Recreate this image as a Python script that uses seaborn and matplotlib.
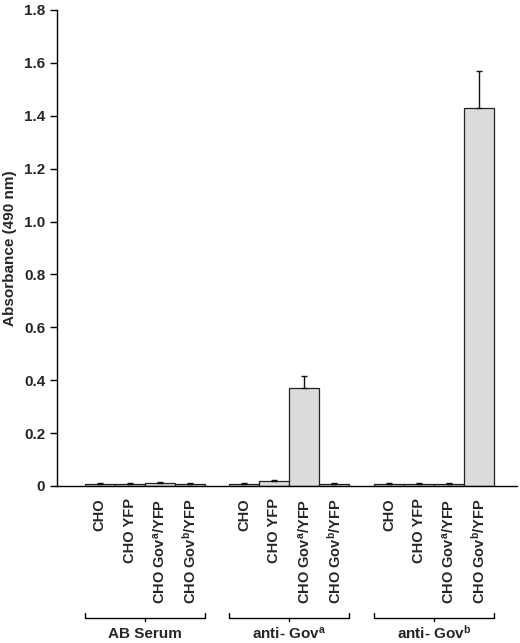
import matplotlib
matplotlib.use("Agg")
import matplotlib.pyplot as plt
import matplotlib.transforms as mtransforms
import seaborn as sns
import pandas as pd
import numpy as np

# ---- data ----
groups = ["AB Serum", "anti- Gov$^{\\mathrm{a}}$", "anti- Gov$^{\\mathrm{b}}$"]
cells = ["CHO", "CHO YFP", "CHO Gov$^{\\mathrm{a}}$/YFP", "CHO Gov$^{\\mathrm{b}}$/YFP"]
values_ab = [0.006, 0.006, 0.011, 0.006]
values_gova = [0.006, 0.017, 0.369, 0.006]
values_govb = [0.006, 0.006, 0.006, 1.43]
err_ab = [0.005, 0.005, 0.004, 0.004]
err_gova = [0.004, 0.004, 0.045, 0.004]
err_govb = [0.004, 0.004, 0.004, 0.14]
yticks = [0, 0.2, 0.4, 0.6, 0.8, 1.0, 1.2, 1.4, 1.6, 1.8]
ytick_labels = ["0", "0.2", "0.4", "0.6", "0.8", "1.0", "1.2", "1.4", "1.6", "1.8"]

rows = []
for g, vals, errs in zip(groups, [values_ab, values_gova, values_govb],
                         [err_ab, err_gova, err_govb]):
    for c, v, e in zip(cells, vals, errs):
        rows.append({"group": g, "cell": c, "value": v, "err": e})
df = pd.DataFrame(rows)

sns.set_style("ticks")
plt.rcParams["font.family"] = ["Liberation Sans", "DejaVu Sans"]
plt.rcParams["font.weight"] = "bold"
plt.rcParams["mathtext.fontset"] = "custom"
plt.rcParams["mathtext.rm"] = "Liberation Sans:bold"
plt.rcParams["mathtext.it"] = "Liberation Sans:bold"
plt.rcParams["mathtext.bf"] = "Liberation Sans:bold"
plt.rcParams["mathtext.default"] = "rm"

fig = plt.figure(figsize=(5.2, 6.43), dpi=100)
ax = fig.add_axes([0.1096, 0.2442, 0.8846, 0.7403])

sns.barplot(data=df, x="group", y="value", hue="cell", order=groups,
            hue_order=cells, palette=["#dcdcdc"] * 4, width=0.83,
            edgecolor="#222222", linewidth=0.9, errorbar=None, legend=False,
            saturation=1, ax=ax)

bars = sorted(ax.patches, key=lambda p: p.get_x())
centers = [p.get_x() + p.get_width() / 2 for p in bars]
heights = [p.get_height() for p in bars]
errs = list(df["err"])
ax.errorbar(centers, heights, yerr=[np.zeros(len(errs)), errs], fmt="none",
            ecolor="#111111", elinewidth=1.0, capsize=2, capthick=1.0, zorder=3)

ax.set_xlim(-0.607, 2.574)
ax.set_ylim(0, 1.8)
ax.set_yticks(yticks)
ax.set_yticklabels(ytick_labels, fontsize=11, fontweight="bold")
ax.set_xticks(centers)
ax.set_xticklabels(list(df["cell"]), rotation=90, fontsize=10.5,
                   fontweight="bold", va="top", ha="center")
ax.tick_params(axis="x", length=0, pad=9)
ax.tick_params(axis="y", length=5, width=1, pad=3.5, color="black")
ax.set_xlabel("")
ax.set_ylabel("Absorbance (490 nm)", fontsize=11, fontweight="bold", labelpad=5)
sns.despine(ax=ax)
for s in ["left", "bottom"]:
    ax.spines[s].set_linewidth(1.0)
    ax.spines[s].set_color("black")

# group brackets
trans = mtransforms.blended_transform_factory(ax.transData, ax.transAxes)
yb = -0.277
th = 0.011
for i, g in enumerate(groups):
    x0 = i - 0.415
    x1 = i + 0.415
    ax.plot([x0, x0, x1, x1], [yb + th, yb, yb, yb + th], color="black",
            lw=1.0, transform=trans, clip_on=False)
    ax.plot([i, i], [yb, yb - 0.006], color="black", lw=1.0,
            transform=trans, clip_on=False)
    ax.text(i, -0.3204, g, transform=trans, ha="center", va="baseline",
            fontsize=11, fontweight="bold")

fig.savefig("out.png", dpi=100)
